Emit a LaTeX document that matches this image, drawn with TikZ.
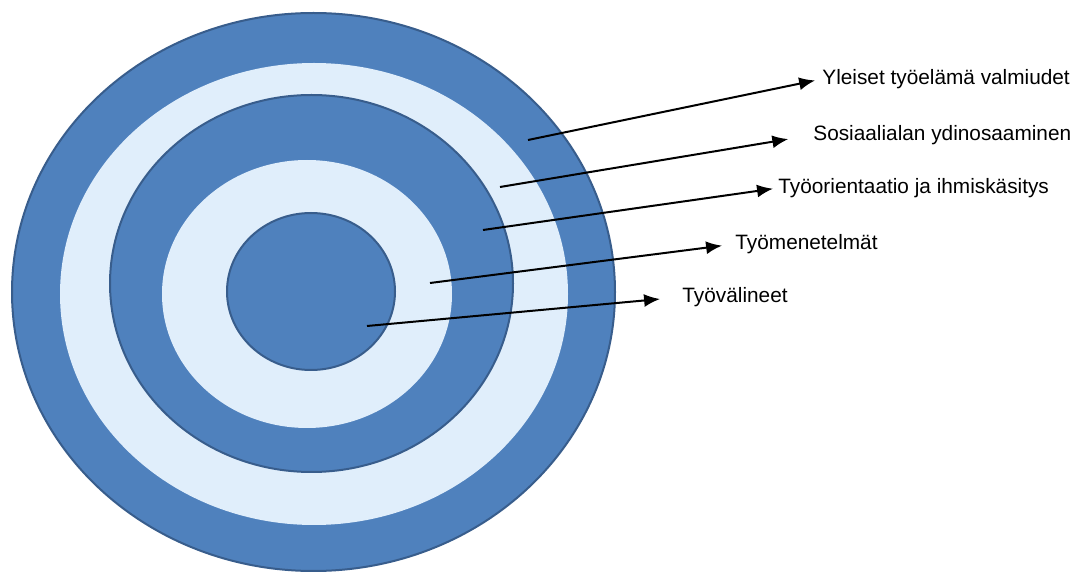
\documentclass[tikz,border=0pt]{standalone}
\usepackage{fontspec}
\setmainfont{Liberation Sans}
\usepackage{tikz}
\usetikzlibrary{arrows.meta, positioning}
\definecolor{ringblue}{RGB}{79,129,189}
\definecolor{ringedge}{RGB}{56,93,140}
\definecolor{ringlight}{RGB}{224,238,251}
\tikzset{
  darkring/.style={fill=ringblue, draw=ringedge, line width=1pt},
  lightring/.style={fill=ringlight},
  arrow/.style={-{Latex[length=8pt, width=6.5pt]}, line width=1pt, color=black},
  ringtext/.style={anchor=west, inner sep=0pt, font=\fontsize{10.4}{12}\selectfont}
}

\begin{document}
\begin{tikzpicture}[x=0.5pt, y=-0.5pt]
  \useasboundingbox (0,0) rectangle (1083,572);
  \fill[white] (0,0) rectangle (1083,572);

  % Target rings, outermost first
  \path[darkring] (313.5,292) ellipse [x radius=150.75pt, y radius=139.5pt];
  \path[lightring] (314,294) ellipse [x radius=127pt, y radius=115.5pt];
  \path[darkring] (311.5,283.5) ellipse [x radius=100.75pt, y radius=94.25pt];
  \path[lightring] (307,294) ellipse [x radius=72.5pt, y radius=67pt];
  \path[darkring] (311,291.5) ellipse [x radius=42pt, y radius=39.25pt];

  % Labels
  \node[ringtext] (yleiset) at (822,79) {Yleiset työelämä valmiudet};
  \node[ringtext] (sosiaali) at (813,135) {Sosiaalialan ydinosaaminen};
  \node[ringtext] (orientaatio) at (778,188) {Työorientaatio ja ihmiskäsitys};
  \node[ringtext] (menetelmat) at (735,244) {Työmenetelmät};
  \node[ringtext] (valineet) at (682,297) {Työvälineet};

  % Start points inside the rings
  \coordinate (s1) at (528,140);
  \coordinate (s2) at (500,187);
  \coordinate (s3) at (483,230);
  \coordinate (s4) at (430,283);
  \coordinate (s5) at (367,326);

  % Arrows
  \draw[arrow, shorten >=3.5pt] (s1) -- (yleiset.west);
  \draw[arrow, shorten >=12.5pt] (s2) -- (sosiaali.west);
  \draw[arrow, shorten >=2.5pt] (s3) -- (orientaatio.west);
  \draw[arrow, shorten >=6.5pt] (s4) -- (menetelmat.west);
  \draw[arrow, shorten >=11pt] (s5) -- (valineet.west);
\end{tikzpicture}
\end{document}
